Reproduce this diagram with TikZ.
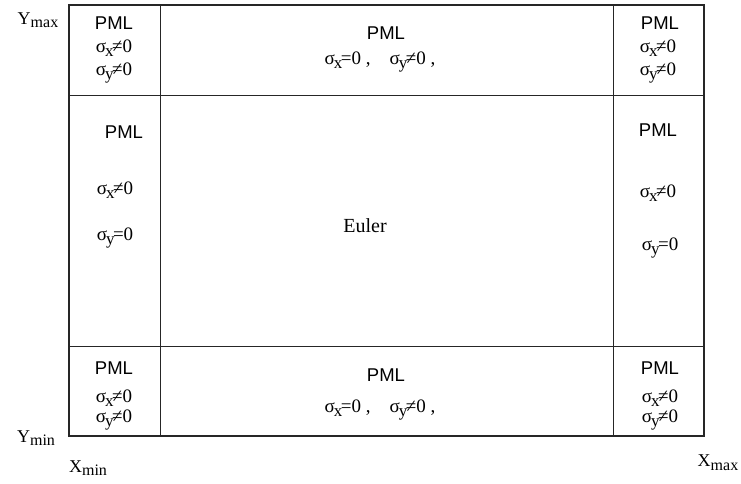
\documentclass[tikz,border=0pt]{standalone}
\usepackage{fontspec}
\setmainfont{Liberation Serif}
\newfontfamily\pmlfont{Liberation Sans}
\newcommand\sgm[2]{σ\kern-0.05em\raisebox{-0.45ex}{\fontsize{17}{17}\selectfont #1}\kern-0.08em#2}
\begin{document}
\begin{tikzpicture}[x=1pt,y=-1pt,
  frame/.style={line width=1.4pt,black!85},
  grid/.style={line width=1pt,black!85},
  pml/.style={font=\pmlfont\fontsize{18.5}{18.5}\selectfont,inner sep=0pt},
  sg/.style={font=\fontsize{19}{19}\selectfont,inner sep=0pt},
  ax/.style={font=\fontsize{18}{18}\selectfont,inner sep=0pt}]
\useasboundingbox (0,0) rectangle (741,484);
% frame
\coordinate (tl) at (69,5);
\coordinate (br) at (704,436);
\draw[frame] (tl) rectangle (br);
\coordinate (v1t) at (160,5); \coordinate (v1b) at (160,436);
\coordinate (v2t) at (613,5); \coordinate (v2b) at (613,436);
\coordinate (h1l) at (69,96); \coordinate (h1r) at (704,96);
\coordinate (h2l) at (69,346); \coordinate (h2r) at (704,346);
\draw[grid] (v1t) -- (v1b);
\draw[grid] (v2t) -- (v2b);
\draw[grid] (h1l) -- (h1r);
\draw[grid] (h2l) -- (h2r);
% top row
\node[pml] (p1) at (114,23) {PML};
\node[sg] (s1a) at (114,48) {\sgm{x}{≠0}};
\node[sg] (s1b) at (114,73) {\sgm{y}{≠0}};
\node[pml] (p2) at (386,33) {PML};
\node[sg] (s2) at (380,62) {\sgm{x}{=0 ,}\quad\sgm{y}{≠0 ,}};
\node[pml] (p3) at (660,23) {PML};
\node[sg] (s3a) at (658,48) {\sgm{x}{≠0}};
\node[sg] (s3b) at (658,73) {\sgm{y}{≠0}};
% middle row
\node[pml] (p4) at (124,132) {PML};
\node[sg] (s4a) at (115,190) {\sgm{x}{≠0}};
\node[sg] (s4b) at (115,238) {\sgm{y}{=0}};
\node[font=\fontsize{20}{20}\selectfont,inner sep=0pt] (eu) at (365,226) {Euler};
\node[pml] (p6) at (658,130) {PML};
\node[sg] (s6a) at (658,193) {\sgm{x}{≠0}};
\node[sg] (s6b) at (660,248) {\sgm{y}{=0}};
% bottom row
\node[pml] (p7) at (114,368) {PML};
\node[sg] (s7a) at (114,398) {\sgm{x}{≠0}};
\node[sg] (s7b) at (114,420) {\sgm{y}{≠0}};
\node[pml] (p8) at (386,375) {PML};
\node[sg] (s8) at (380,410) {\sgm{x}{=0 ,}\quad\sgm{y}{≠0 ,}};
\node[pml] (p9) at (660,368) {PML};
\node[sg] (s9a) at (660,398) {\sgm{x}{≠0}};
\node[sg] (s9b) at (660,420) {\sgm{y}{≠0}};
% axis labels
\node[ax] (ymax) at (38,20) {Y\raisebox{-0.35ex}{\fontsize{16}{16}\selectfont max}};
\node[ax] (ymin) at (36,438) {Y\raisebox{-0.45ex}{\fontsize{16}{16}\selectfont min}};
\node[ax] (xmin) at (88,468) {X\raisebox{-0.45ex}{\fontsize{16}{16}\selectfont min}};
\node[ax] (xmax) at (718,463) {X\raisebox{-0.45ex}{\fontsize{16}{16}\selectfont max}};
\end{tikzpicture}
\end{document}
